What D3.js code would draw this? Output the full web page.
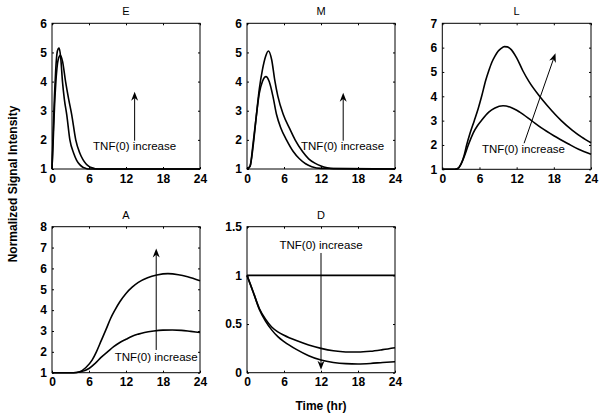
<!DOCTYPE html>
<html>
<head>
<meta charset="utf-8">
<script src="https://cdn.jsdelivr.net/npm/d3@7"></script>
<style>
  body { margin: 0; background: #fff; }
  svg { display: block; font-family: "Liberation Sans", Arial, sans-serif; }
  .tick text { font-size: 12px; fill: #000; font-weight: bold; }
  .curve { fill: none; stroke: #000; stroke-width: 1.6; }
  .box { fill: none; stroke: #000; stroke-width: 1; }
</style>
</head>
<body>
<svg id="chart" width="602" height="419"></svg>
<script>
// values
var xTicks = [0, 6, 12, 18, 24];

var tE1 = [0, 0.2, 0.4, 0.6, 0.8, 1.0, 1.15, 1.4, 1.7, 2.0, 2.4, 2.9, 3.5, 4.0, 4.5, 5.0, 5.5, 6.0, 24];
var vE1 = [1, 2.3, 3.5, 4.4, 4.95, 5.12, 5.15, 4.85, 4.0, 3.4, 2.85, 2.0, 1.55, 1.3, 1.15, 1.06, 1.02, 1.0, 1.0];
var tE2 = [0, 0.2, 0.4, 0.6, 0.8, 1.0, 1.35, 1.7, 2.2, 2.7, 3.2, 3.85, 4.5, 5.0, 5.5, 6.0, 6.5, 7.0, 8, 24];
var vE2 = [1, 2.0, 3.1, 3.9, 4.45, 4.75, 4.9, 4.7, 4.0, 3.4, 2.86, 2.0, 1.55, 1.33, 1.18, 1.09, 1.04, 1.01, 1.0, 1.0];

var tM1 = [0, 0.5, 1.0, 1.5, 2.0, 2.5, 3.0, 3.46, 4.0, 4.5, 5.0, 5.9, 7.0, 7.8, 9, 10, 11, 12, 13, 14, 24];
var vM1 = [1, 1.1, 1.8, 2.8, 3.75, 4.4, 4.85, 5.05, 4.75, 4.05, 3.5, 2.86, 2.35, 2.0, 1.6, 1.35, 1.2, 1.1, 1.04, 1.01, 1.0];
var tM2 = [0, 0.5, 1.0, 1.5, 2.0, 2.5, 3.08, 3.6, 4.2, 4.8, 5.5, 6.4, 7.5, 8.5, 9.5, 10.5, 12, 24];
var vM2 = [1, 1.1, 1.9, 2.8, 3.6, 4.0, 4.17, 4.0, 3.5, 2.86, 2.4, 2.0, 1.6, 1.35, 1.18, 1.08, 1.02, 1.0];

var tL1 = [0, 2, 2.5, 3, 3.5, 3.93, 4.5, 5.16, 5.8, 6.35, 7.0, 7.5, 8, 8.5, 9, 9.5, 10, 10.5, 11, 12, 13, 14, 15.7, 17, 19.2, 21, 22.5, 24];
var vL1 = [1, 1.0, 1.03, 1.2, 1.55, 2.0, 2.5, 3.0, 3.5, 4.0, 4.65, 5.05, 5.4, 5.65, 5.85, 5.97, 6.04, 6.03, 5.95, 5.58, 5.05, 4.6, 4.0, 3.6, 3.0, 2.6, 2.32, 2.09];
var tL2 = [0, 2, 2.5, 3, 3.5, 4.2, 5, 5.7, 6.3, 7.5, 8.5, 9.8, 11, 12.5, 14.4, 16, 18, 20.3, 22, 24];
var vL2 = [1, 1.0, 1.03, 1.2, 1.5, 2.0, 2.5, 2.8, 3.0, 3.35, 3.52, 3.61, 3.55, 3.35, 3.0, 2.7, 2.38, 2.05, 1.82, 1.62];

var tA1 = [0, 3.5, 4.5, 5.5, 6.5, 7.2, 8, 8.8, 9.5, 10.2, 11, 12, 13, 14, 15.5, 17, 18.8, 20.5, 22, 24];
var vA1 = [1, 1.0, 1.05, 1.25, 1.6, 2.0, 2.55, 3.1, 3.6, 4.0, 4.4, 4.8, 5.1, 5.33, 5.55, 5.68, 5.75, 5.7, 5.6, 5.41];
var tA2 = [0, 3.5, 4.5, 6, 7, 8, 9, 10, 11, 12, 13, 14, 15, 16.5, 18, 19.5, 21, 22.5, 24];
var vA2 = [1, 1.0, 1.03, 1.2, 1.45, 1.75, 2.0, 2.25, 2.45, 2.6, 2.75, 2.85, 2.93, 3.0, 3.04, 3.05, 3.03, 2.98, 2.93];

var tD = [0, 1, 2, 3, 4, 5, 6, 8, 10, 12, 14, 16, 18, 20, 22, 24];
var vD1 = [1, 0.83, 0.66, 0.55, 0.47, 0.42, 0.385, 0.33, 0.285, 0.25, 0.225, 0.213, 0.212, 0.22, 0.237, 0.257];
var vD2 = [1, 0.83, 0.65, 0.53, 0.44, 0.37, 0.32, 0.24, 0.175, 0.13, 0.105, 0.093, 0.09, 0.095, 0.105, 0.113];
var tDflat = [0, 24];
var vDflat = [1, 1];

function zip(t, v) {
    return t.map(function (d, i) { return { t: d, v: v[i] }; });
}

// panel setup
var panels = [
    { name: "E", box: [52, 23.3, 200, 169], y: [1, 6], yTicks: [1, 2, 3, 4, 5, 6],
      series: [zip(tE1, vE1), zip(tE2, vE2)],
      arrow: { from: [13.4, 1.97], to: [13.4, 3.65] }, label: [13.4, 1.65] },
    { name: "M", box: [247, 23.3, 395, 169], y: [1, 6], yTicks: [1, 2, 3, 4, 5, 6],
      series: [zip(tM1, vM1), zip(tM2, vM2)],
      arrow: { from: [15.6, 1.97], to: [15.6, 3.62] }, label: [15.5, 1.66] },
    { name: "L", box: [442.3, 23.3, 591, 169.3], y: [1, 7], yTicks: [1, 2, 3, 4, 5, 6, 7],
      series: [zip(tL1, vL1), zip(tL2, vL2)],
      arrow: { from: [13.2, 2.07], to: [18.27, 5.77] }, label: [13.1, 1.68] },
    { name: "A", box: [52, 226.7, 200, 372.7], y: [1, 8], yTicks: [1, 2, 3, 4, 5, 6, 7, 8],
      series: [zip(tA1, vA1), zip(tA2, vA2)],
      arrow: { from: [16.9, 2.09], to: [16.9, 6.96] }, label: [16.9, 1.58] },
    { name: "D", box: [247, 226.7, 395, 372.7], y: [0, 1.5], yTicks: [0, 0.5, 1, 1.5],
      series: [zip(tDflat, vDflat), zip(tD, vD1), zip(tD, vD2)],
      arrow: { from: [12, 1.23], to: [12, 0.03] }, label: [12, 1.268] }
];

var svg = d3.select("#chart");
var fmt = d3.format("");

panels.forEach(function (p) {
    var x0 = p.box[0], y0 = p.box[1], x1 = p.box[2], y1 = p.box[3];
    var x = d3.scaleLinear().domain([0, 24]).range([x0, x1]);
    var y = d3.scaleLinear().domain(p.y).range([y1, y0]);
    var g = svg.append("g");

    var tl = 2; // MATLAB style inward ticks on every side
    g.append("g").attr("transform", "translate(0," + y1 + ")")
        .call(d3.axisBottom(x).tickValues(xTicks).tickFormat(fmt).tickSizeInner(-tl).tickSizeOuter(0).tickPadding(5));
    g.append("g").attr("transform", "translate(0," + y0 + ")")
        .call(d3.axisTop(x).tickValues(xTicks).tickSizeInner(-tl).tickSizeOuter(0).tickFormat(""));
    g.append("g").attr("transform", "translate(" + x0 + ",0)")
        .call(d3.axisLeft(y).tickValues(p.yTicks).tickFormat(fmt).tickSizeInner(-tl).tickSizeOuter(0).tickPadding(5));
    g.append("g").attr("transform", "translate(" + x1 + ",0)")
        .call(d3.axisRight(y).tickValues(p.yTicks).tickSizeInner(-tl).tickSizeOuter(0).tickFormat(""));
    g.selectAll(".domain").remove();
    g.selectAll(".tick line").attr("stroke", "#000");

    g.append("rect").attr("class", "box")
        .attr("x", x0).attr("y", y0).attr("width", x1 - x0).attr("height", y1 - y0);

    var line = d3.line()
        .x(function (d) { return x(d.t); })
        .y(function (d) { return y(d.v); })
        .curve(d3.curveMonotoneX);

    g.selectAll(".curve")
        .data(p.series)
        .enter()
        .append("path")
        .attr("class", "curve")
        .attr("d", line);

    g.append("text")
        .text(p.name)
        .attr("x", (x0 + x1) / 2)
        .attr("y", y0 - 8)
        .attr("text-anchor", "middle")
        .style("font-size", "11px");

    // annotation arrow
    var ax1 = x(p.arrow.from[0]), ay1 = y(p.arrow.from[1]);
    var ax2 = x(p.arrow.to[0]), ay2 = y(p.arrow.to[1]);
    var ang = Math.atan2(ay2 - ay1, ax2 - ax1);
    var hl = 9, hw = 3.5;
    var bx = ax2 - hl * Math.cos(ang), by = ay2 - hl * Math.sin(ang);
    var nx = -Math.sin(ang), ny = Math.cos(ang);
    var ix = ax2 - hl * 0.7 * Math.cos(ang), iy = ay2 - hl * 0.7 * Math.sin(ang);

    g.append("line")
        .attr("x1", ax1).attr("y1", ay1)
        .attr("x2", ix).attr("y2", iy)
        .attr("stroke", "#000").attr("stroke-width", 1);
    g.append("path")
        .attr("d", "M" + ax2 + "," + ay2 +
            "L" + (bx + nx * hw) + "," + (by + ny * hw) +
            "L" + ix + "," + iy +
            "L" + (bx - nx * hw) + "," + (by - ny * hw) + "Z")
        .attr("fill", "#000");

    g.append("text")
        .text("TNF(0) increase")
        .attr("x", x(p.label[0]))
        .attr("y", y(p.label[1]))
        .attr("text-anchor", "middle")
        .style("font-size", "11.5px");
});

svg.append("text")
    .text("Normalized Signal Intensity")
    .attr("transform", "translate(17,184) rotate(-90)")
    .attr("text-anchor", "middle")
    .style("font-size", "12px")
    .style("font-weight", "bold");

svg.append("text")
    .text("Time (hr)")
    .attr("x", 321)
    .attr("y", 410)
    .attr("text-anchor", "middle")
    .style("font-size", "12px")
    .style("font-weight", "bold");
</script>
</body>
</html>
